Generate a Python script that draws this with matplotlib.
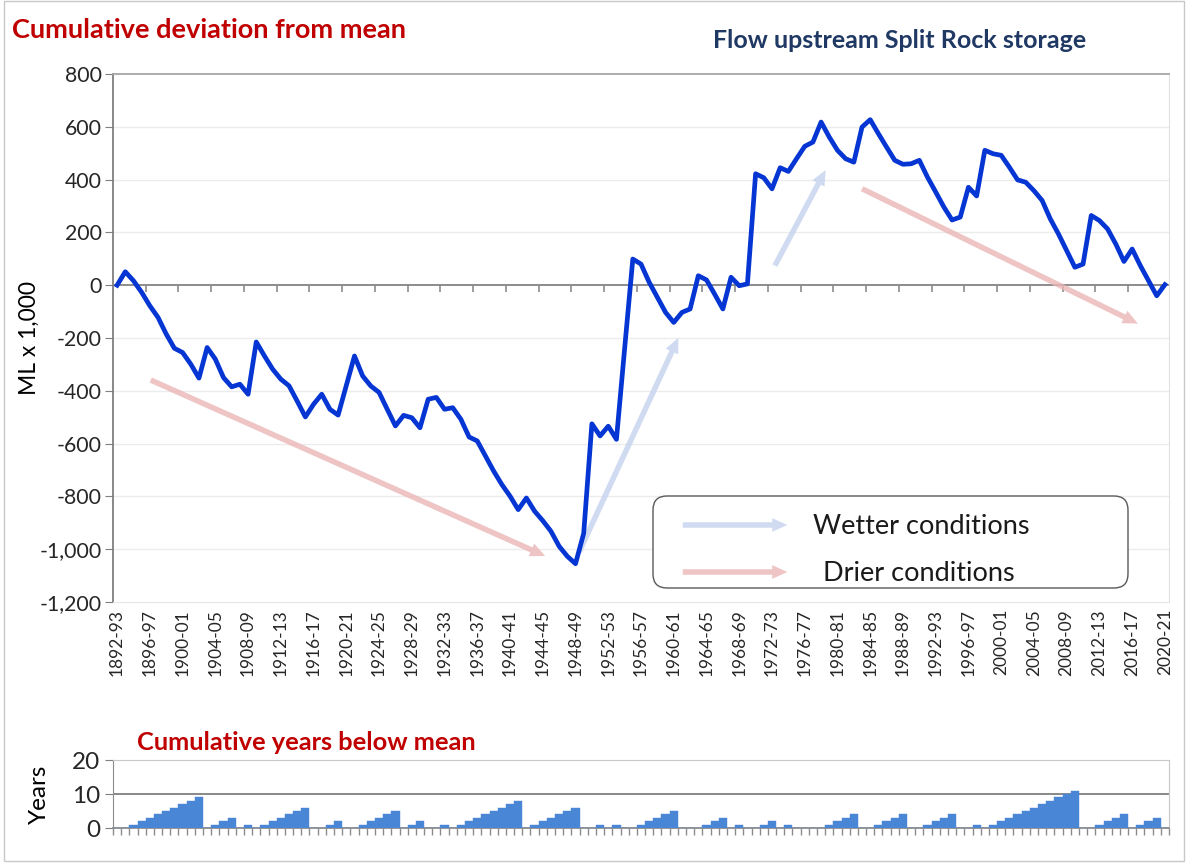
import numpy as np
import matplotlib
matplotlib.use("Agg")
from matplotlib import pyplot as plt
from matplotlib.patches import FancyArrowPatch, FancyBboxPatch, Rectangle

plt.rcParams['font.family'] = ['Lato', 'DejaVu Sans']

# water years 1892-93 .. 2020-21
firstYear = 1892
yearLabels = [f"{y}-{(y + 1) % 100:02d}" for y in range(firstYear, 2021)]

# cumulative deviation from mean (ML x 1,000)
cumDev = [
    0, 51, 17, -27, -78, -122, -185, -239, -255, -299,
    -352, -236, -280, -350, -385, -375, -413, -215, -268, -318,
    -356, -381, -439, -499, -451, -413, -470, -492, -380, -268,
    -344, -382, -406, -470, -533, -493, -502, -540, -432, -425,
    -470, -464, -508, -575, -590, -647, -704, -755, -799, -850,
    -806, -856, -892, -932, -989, -1027, -1055, -940, -525, -571,
    -534, -584, -240, 99, 80, 11, -46, -103, -141, -103,
    -90, 36, 20, -34, -90, 30, -2, 5, 422, 407,
    365, 445, 431, 479, 526, 542, 618, 561, 511, 479,
    466, 599, 627, 574, 523, 473, 458, 460, 473, 409,
    353, 296, 247, 258, 371, 338, 511, 498, 492, 447,
    399, 390, 358, 321, 251, 194, 131, 68, 80, 264,
    245, 213, 156, 90, 137, 74, 17, -40, 2,
]

# cumulative (consecutive) years below mean
yearsBelow = [
    0, 0, 1, 2, 3, 4, 5, 6, 7, 8,
    9, 0, 1, 2, 3, 0, 1, 0, 1, 2,
    3, 4, 5, 6, 0, 0, 1, 2, 0, 0,
    1, 2, 3, 4, 5, 0, 1, 2, 0, 0,
    1, 0, 1, 2, 3, 4, 5, 6, 7, 8,
    0, 1, 2, 3, 4, 5, 6, 0, 0, 1,
    0, 1, 0, 0, 1, 2, 3, 4, 5, 0,
    0, 0, 1, 2, 3, 0, 1, 0, 0, 1,
    2, 0, 1, 0, 0, 0, 0, 1, 2, 3,
    4, 0, 0, 1, 2, 3, 4, 0, 0, 1,
    2, 3, 4, 0, 0, 1, 0, 1, 2, 3,
    4, 5, 6, 7, 8, 9, 10, 11, 0, 0,
    1, 2, 3, 4, 0, 1, 2, 3, 0,
]

# trend arrows (category index, value): start, end
drierArrows = [((3.8, -355), (52.6, -1030)), ((90.7, 370), (125.0, -150))]
wetterArrows = [((56.3, -1020), (68.7, -190)), ((80.2, 65), (86.7, 445))]

W, H = 1189, 863
n = len(cumDev)
x = np.arange(n)

fig = plt.figure(figsize=(W / 100, H / 100), dpi=100)

arrowStyle = 'simple,head_length=0.6,head_width=0.55,tail_width=0.22'
pink = '#eab6b6'
lightBlue = '#c8d5ef'

# ---- main chart ----
ax = fig.add_axes([113 / W, 1 - 602 / H, 1056 / W, 528 / H])
ax.set_xlim(-0.5, n - 0.5)
ax.set_ylim(-1200, 800)

yt = np.arange(-1200, 801, 200)
ax.set_yticks(yt)
ax.set_yticklabels([f"{v:,}" for v in yt], fontsize=15.3, color='#262626')
for v in yt[1:-1]:
    if v != 0:
        ax.axhline(v, color='#ececec', lw=1.0, zorder=0)
ax.axhline(0, color='#8c8c8c', lw=1.4, zorder=2)
# category tick marks on the zero line
bounds = np.arange(3.5, n - 1, 4)
ax.vlines(bounds, 0, -26, color='#8c8c8c', lw=1.2, zorder=2)

ax.set_xticks(x[::4])
ax.set_xticklabels(yearLabels[::4], rotation=90, fontsize=12.5, color='#262626')
ax.tick_params(axis='x', length=0, pad=5)
ax.tick_params(axis='y', length=6, color='#7f7f7f', pad=2)

ax.spines['left'].set_color('#7f7f7f')
ax.spines['left'].set_linewidth(1.3)
ax.spines['top'].set_color('#a6a6a6')
ax.spines['top'].set_linewidth(1.3)
ax.spines['right'].set_color('#e0e0e0')
ax.spines['bottom'].set_color('#e6e6e6')

ax.set_ylabel('ML x 1,000', fontsize=16.5, labelpad=0)

for (s, e) in drierArrows:
    ax.add_patch(FancyArrowPatch(s, e, arrowstyle=arrowStyle, mutation_scale=18,
                                 lw=0, color=pink, alpha=0.8, zorder=3))
for (s, e) in wetterArrows:
    ax.add_patch(FancyArrowPatch(s, e, arrowstyle=arrowStyle, mutation_scale=18,
                                 lw=0, color=lightBlue, alpha=0.85, zorder=3))

ax.plot(x, cumDev, color='#0535D2', lw=3.4, solid_joinstyle='round', zorder=5)

# ---- bottom chart ----
bx = fig.add_axes([113 / W, 1 - 828 / H, 1056 / W, 68 / H])
bx.set_xlim(-0.5, n - 0.5)
bx.set_ylim(0, 20)
bx.bar(x, yearsBelow, width=1.0, color='#4a86d6', edgecolor='#4a86d6', lw=0.3, zorder=3)
bx.axhline(10, color='#7f7f7f', lw=1.3, zorder=1)
bx.set_yticks([0, 10, 20])
bx.set_yticklabels(['0', '10', '20'], fontsize=17.5, color='#262626')
bx.set_xticks(np.arange(-0.5, n, 1))
bx.set_xticklabels([])
bx.tick_params(axis='x', length=5, color='#8c8c8c', width=1)
bx.tick_params(axis='y', length=6, color='#7f7f7f', pad=3)
bx.spines['bottom'].set_color('#8c8c8c')
bx.spines['bottom'].set_linewidth(1.3)
bx.spines['left'].set_color('#8c8c8c')
bx.spines['top'].set_color('#c8c8c8')
bx.spines['right'].set_color('#c8c8c8')
bx.set_ylabel('Years', fontsize=17.5, labelpad=16)

# ---- titles / legend (pixel overlay) ----
ov = fig.add_axes([0, 0, 1, 1], zorder=10)
ov.set_xlim(0, W)
ov.set_ylim(H, 0)
ov.axis('off')
ov.patch.set_alpha(0)

ov.text(12, 30, 'Cumulative deviation from mean', fontsize=19.5, fontweight='bold',
        color='#C00000', va='center', ha='left')
ov.text(713, 40, 'Flow upstream Split Rock storage', fontsize=18, fontweight='bold',
        color='#1F3864', va='center', ha='left')
ov.text(137, 742, 'Cumulative years below mean', fontsize=18.3, fontweight='bold',
        color='#C00000', va='center', ha='left')

ov.add_patch(FancyBboxPatch((653, 496), 475, 92, boxstyle='round,pad=0,rounding_size=14',
                            fc='white', ec='#595959', lw=1.0))
ov.add_patch(FancyArrowPatch((680, 525), (790, 525), arrowstyle=arrowStyle,
                             mutation_scale=18, lw=0, color=lightBlue, alpha=0.85))
ov.add_patch(FancyArrowPatch((680, 572), (790, 572), arrowstyle=arrowStyle,
                             mutation_scale=18, lw=0, color=pink, alpha=0.8))
ov.text(813, 526, 'Wetter conditions', fontsize=19.5, va='center', ha='left', color='#1a1a1a')
ov.text(823, 573, 'Drier conditions', fontsize=19.5, va='center', ha='left', color='#1a1a1a')

ov.add_patch(Rectangle((4, 1), W - 9, H - 3, fill=False, ec='#c8c8c8', lw=1.0))

fig.savefig('out.png', dpi=100)
